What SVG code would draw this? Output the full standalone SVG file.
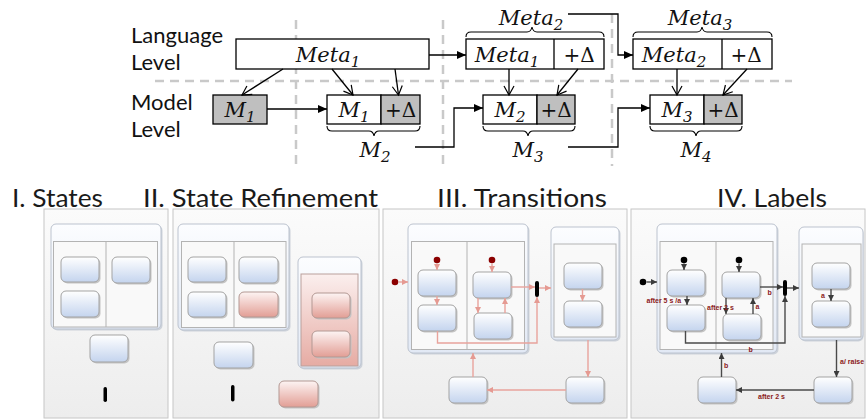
<svg xmlns="http://www.w3.org/2000/svg" width="866" height="419" viewBox="0 0 866 419">
<defs>
<linearGradient id="gBlue" x1="0" y1="0" x2="0" y2="1"><stop offset="0" stop-color="#ffffff"/><stop offset="1" stop-color="#c4d4ee"/></linearGradient>
<linearGradient id="gPink" x1="0" y1="0" x2="0" y2="1"><stop offset="0" stop-color="#fdf4f3"/><stop offset="1" stop-color="#e29e95"/></linearGradient>
<linearGradient id="gPinkReg" x1="0" y1="0" x2="0" y2="1"><stop offset="0" stop-color="#fbefee"/><stop offset="1" stop-color="#e6aba3"/></linearGradient>
<linearGradient id="gComp" x1="0" y1="0" x2="0" y2="1"><stop offset="0" stop-color="#fcfdff"/><stop offset="1" stop-color="#e2e9f5"/></linearGradient>
<linearGradient id="gPanel" x1="0" y1="0" x2="0" y2="1"><stop offset="0" stop-color="#fbfbfb"/><stop offset="1" stop-color="#ededed"/></linearGradient>
<marker id="aFill" markerUnits="userSpaceOnUse" markerWidth="9" markerHeight="8" refX="9" refY="4" orient="auto"><path d="M0,0 L9,4 L0,8 z" fill="#000"/></marker>
<marker id="aOpen" markerUnits="userSpaceOnUse" markerWidth="12" markerHeight="12" refX="10" refY="6" orient="auto"><path d="M1,1 L10,6 L1,11" fill="none" stroke="#000" stroke-width="1.2"/></marker>
<marker id="aPink" markerUnits="userSpaceOnUse" markerWidth="6" markerHeight="6" refX="6" refY="3" orient="auto"><path d="M0,0 L6,3 L0,6 z" fill="#e59a92"/></marker>
<marker id="aDark" markerUnits="userSpaceOnUse" markerWidth="6" markerHeight="6" refX="6" refY="3" orient="auto"><path d="M0,0 L6,3 L0,6 z" fill="#3c3c3c"/></marker>
</defs>
<style>
.lvl{font-family:Lato,"Liberation Sans",sans-serif;font-size:22px;fill:#111}
.math{font-family:"DejaVu Serif","Liberation Serif",serif;font-style:italic;font-size:21px;fill:#111}
.sub{font-size:15px}
.up{font-family:"DejaVu Serif","Liberation Serif",serif;font-size:20px;fill:#111}
.title{font-family:Lato,"Liberation Sans",sans-serif;font-weight:400;font-size:25px;fill:#1a1a1a}
.box{fill:#fff;stroke:#000;stroke-width:1.3}
.gray{fill:#bfbfbf;stroke:#000;stroke-width:1.3}
.dash{stroke:#c9c9c9;stroke-width:2.5;stroke-dasharray:9 6;fill:none}
.ln{stroke:#000;stroke-width:1.3;fill:none}
.brace{stroke:#000;stroke-width:1.1;fill:none}
.panel{fill:url(#gPanel);stroke:#c6c6c6;stroke-width:1}
.comp{fill:url(#gComp);stroke:#bcc3cf;stroke-width:1}
.csh{fill:#cdd2da}
.reg{fill:#f9f9f9;stroke:#b3b3b3;stroke-width:1}
.div{stroke:#b3b3b3;stroke-width:1}
.st{fill:url(#gBlue);stroke:#a3a3a3;stroke-width:1}
.pk{fill:url(#gPink);stroke:#b39893;stroke-width:1}
.sh{fill:#c4c4c4}
.preg{fill:url(#gPinkReg);stroke:#b9a09c;stroke-width:1}
.bar{fill:#000}
.tr{stroke:#e8a39c;stroke-width:1.4;fill:none;marker-end:url(#aPink)}
.tl{stroke:#4a4a4a;stroke-width:1.4;fill:none;marker-end:url(#aDark)}
.lbl{font-family:"Liberation Sans",Arial,sans-serif;font-weight:bold;font-size:7px;fill:#8b1a1a}
</style>

<!-- ===== Top: language/model evolution ===== -->
<g id="grid">
<path class="dash" d="M155,81 L792,81"/>
<path class="dash" d="M296,20 L296,166"/>
<path class="dash" d="M443,20 L443,166"/>
<path class="dash" d="M612,14 L612,166"/>
</g>
<g id="level-labels">
<text class="lvl" x="131" y="43">Language</text>
<text class="lvl" x="131" y="70">Level</text>
<text class="lvl" x="131" y="110">Model</text>
<text class="lvl" x="131" y="137">Level</text>
</g>

<g id="meta1">
<rect class="box" x="236" y="39" width="193" height="30"/>
<text class="math" x="328" y="62" text-anchor="middle">Meta<tspan class="sub" dy="5">1</tspan></text>
</g>
<g id="meta2">
<rect class="box" x="466" y="39" width="138" height="30"/>
<line class="ln" x1="554" y1="39" x2="554" y2="69"/>
<text class="math" x="507" y="62" text-anchor="middle">Meta<tspan class="sub" dy="5">1</tspan></text>
<text class="up" x="579" y="62" text-anchor="middle">+Δ</text>
<path class="brace" d="M466,37 Q466,32 471,32 L527,32 Q531,32 532,27 Q533,32 537,32 L599,32 Q604,32 604,37"/>
<text class="math" x="531" y="25" text-anchor="middle">Meta<tspan class="sub" dy="5">2</tspan></text>
</g>
<g id="meta3">
<rect class="box" x="633" y="39" width="139" height="30"/>
<line class="ln" x1="722" y1="39" x2="722" y2="69"/>
<text class="math" x="674" y="62" text-anchor="middle">Meta<tspan class="sub" dy="5">2</tspan></text>
<text class="up" x="746" y="62" text-anchor="middle">+Δ</text>
<path class="brace" d="M633,37 Q633,32 638,32 L697,32 Q701,32 702,27 Q703,32 707,32 L767,32 Q772,32 772,37"/>
<text class="math" x="700" y="25" text-anchor="middle">Meta<tspan class="sub" dy="5">3</tspan></text>
</g>
<g id="m1">
<rect class="gray" x="213" y="95" width="54" height="29"/>
<text class="math" x="240" y="117" text-anchor="middle">M<tspan class="sub" dy="5">1</tspan></text>
</g>
<g id="m2">
<rect class="box" x="327" y="95" width="54" height="29"/>
<rect class="gray" x="381" y="95" width="39" height="29"/>
<text class="math" x="354" y="117" text-anchor="middle">M<tspan class="sub" dy="5">1</tspan></text>
<text class="up" x="400.5" y="117" text-anchor="middle">+Δ</text>
<path class="brace" d="M327,126 Q327,131 332,131 L369,131 Q373,131 374,136 Q375,131 379,131 L415,131 Q420,131 420,126"/>
<text class="math" x="375" y="157" text-anchor="middle">M<tspan class="sub" dy="5">2</tspan></text>
</g>
<g id="m3">
<rect class="box" x="483" y="95" width="54" height="29"/>
<rect class="gray" x="537" y="95" width="38" height="29"/>
<text class="math" x="510" y="117" text-anchor="middle">M<tspan class="sub" dy="5">2</tspan></text>
<text class="up" x="556" y="117" text-anchor="middle">+Δ</text>
<path class="brace" d="M483,126 Q483,131 488,131 L523,131 Q527,131 528,136 Q529,131 533,131 L570,131 Q575,131 575,126"/>
<text class="math" x="528" y="157" text-anchor="middle">M<tspan class="sub" dy="5">3</tspan></text>
</g>
<g id="m4">
<rect class="box" x="650" y="95" width="54" height="29"/>
<rect class="gray" x="704" y="95" width="38" height="29"/>
<text class="math" x="677" y="117" text-anchor="middle">M<tspan class="sub" dy="5">3</tspan></text>
<text class="up" x="723" y="117" text-anchor="middle">+Δ</text>
<path class="brace" d="M650,126 Q650,131 655,131 L691,131 Q695,131 696,136 Q697,131 701,131 L737,131 Q742,131 742,126"/>
<text class="math" x="696" y="157" text-anchor="middle">M<tspan class="sub" dy="5">4</tspan></text>
</g>

<g id="top-connectors">
<path class="ln" d="M283,69 L242,95" marker-end="url(#aOpen)"/>
<path class="ln" d="M332,69 L353,95" marker-end="url(#aOpen)"/>
<path class="ln" d="M395,69 L398.5,95" marker-end="url(#aOpen)"/>
<path class="ln" d="M509,69 L509,95" marker-end="url(#aOpen)"/>
<path class="ln" d="M578,69 L557,95" marker-end="url(#aOpen)"/>
<path class="ln" d="M677,69 L677,95" marker-end="url(#aOpen)"/>
<path class="ln" d="M747,69 L723,95" marker-end="url(#aOpen)"/>
<path class="ln" d="M267,109 L327,109" marker-end="url(#aFill)"/>
<path class="ln" d="M429,55 L466,55" marker-end="url(#aFill)"/>
<path class="ln" d="M568,14 L618,14 L618,55 L633,55" marker-end="url(#aFill)"/>
<path class="ln" d="M415,147 L454,147 L454,108 L483,108" marker-end="url(#aFill)"/>
<path class="ln" d="M568,147 L618,147 L618,108 L650,108" marker-end="url(#aFill)"/>
</g>

<!-- ===== Titles ===== -->
<g id="titles">
<text class="title" x="12" y="207" textLength="91" lengthAdjust="spacingAndGlyphs">I. States</text>
<text class="title" x="143" y="207" textLength="235" lengthAdjust="spacingAndGlyphs">II. State Refinement</text>
<text class="title" x="437" y="207" textLength="170" lengthAdjust="spacingAndGlyphs">III. Transitions</text>
<text class="title" x="717" y="207" textLength="110" lengthAdjust="spacingAndGlyphs">IV. Labels</text>
</g>

<!-- ===== Panel I ===== -->
<g id="panel1">
<rect class="panel" x="44" y="209" width="124" height="209"/>
<rect class="csh" x="52.5" y="225.5" width="110" height="105" rx="5"/>
<rect class="comp" x="51" y="224" width="110" height="105" rx="5"/>
<rect class="reg" x="53.5" y="241.5" width="104" height="85.5"/>
<line class="div" x1="106" y1="241.5" x2="106" y2="327"/>
<g id="p1-s1"><rect class="sh" x="62.5" y="258.5" width="38" height="25" rx="5"/><rect class="st" x="61" y="257" width="38" height="25" rx="5"/></g>
<g id="p1-s2"><rect class="sh" x="62.5" y="292.5" width="38" height="26" rx="5"/><rect class="st" x="61" y="291" width="38" height="26" rx="5"/></g>
<g id="p1-s3"><rect class="sh" x="113.5" y="258.5" width="38" height="26" rx="5"/><rect class="st" x="112" y="257" width="38" height="26" rx="5"/></g>
<g id="p1-s4"><rect class="sh" x="91.5" y="336.5" width="38" height="27" rx="5"/><rect class="st" x="90" y="335" width="38" height="27" rx="5"/></g>
<rect class="bar" x="103.5" y="387" width="3.5" height="15" rx="1.7"/>
</g>

<!-- ===== Panel II ===== -->
<g id="panel2">
<rect class="panel" x="173" y="209" width="206" height="209"/>
<rect class="csh" x="179.5" y="225.5" width="111" height="106" rx="5"/>
<rect class="comp" x="178" y="224" width="111" height="106" rx="5"/>
<rect class="reg" x="181.5" y="241.5" width="104.5" height="86"/>
<line class="div" x1="234" y1="241.5" x2="234" y2="327.5"/>
<g id="p2-s1"><rect class="sh" x="189.5" y="258.5" width="38" height="25" rx="5"/><rect class="st" x="188" y="257" width="38" height="25" rx="5"/></g>
<g id="p2-s2"><rect class="sh" x="189.5" y="293.5" width="38" height="25" rx="5"/><rect class="st" x="188" y="292" width="38" height="25" rx="5"/></g>
<g id="p2-s3"><rect class="sh" x="240.5" y="258.5" width="39" height="26" rx="5"/><rect class="st" x="239" y="257" width="39" height="26" rx="5"/></g>
<g id="p2-s4"><rect class="sh" x="240.5" y="293.5" width="39" height="25" rx="5"/><rect class="pk" x="239" y="292" width="39" height="25" rx="5"/></g>
<rect class="csh" x="299.5" y="258.5" width="63" height="111" rx="5"/>
<rect class="comp" x="298" y="257" width="63" height="111" rx="5"/>
<rect class="preg" x="301" y="274" width="57" height="92"/>
<g id="p2-s5"><rect class="sh" x="313.5" y="294.5" width="38" height="25" rx="5"/><rect class="pk" x="312" y="293" width="38" height="25" rx="5"/></g>
<g id="p2-s6"><rect class="sh" x="313.5" y="332.5" width="38" height="26" rx="5"/><rect class="pk" x="312" y="331" width="38" height="26" rx="5"/></g>
<g id="p2-s7"><rect class="sh" x="215.5" y="343.5" width="39" height="26" rx="5"/><rect class="st" x="214" y="342" width="39" height="26" rx="5"/></g>
<rect class="bar" x="231" y="385" width="3.5" height="16.5" rx="1.7"/>
<g id="p2-s8"><rect class="sh" x="280.5" y="382.5" width="39" height="26" rx="5"/><rect class="pk" x="279" y="381" width="39" height="26" rx="5"/></g>
</g>

<!-- ===== Panel III ===== -->
<g id="panel3">
<rect class="panel" x="383" y="209" width="244" height="209"/>
<rect class="csh" x="409.5" y="225.5" width="120" height="129" rx="5"/>
<rect class="comp" x="408" y="224" width="120" height="129" rx="5"/>
<rect class="reg" x="411.5" y="241.5" width="113" height="108"/>
<line class="div" x1="467" y1="241.5" x2="467" y2="349.5"/>
<g id="p3-A"><rect class="sh" x="419.5" y="271.5" width="38" height="26" rx="5"/><rect class="st" x="418" y="270" width="38" height="26" rx="5"/></g>
<g id="p3-B"><rect class="sh" x="419.5" y="306.5" width="38" height="26" rx="5"/><rect class="st" x="418" y="305" width="38" height="26" rx="5"/></g>
<g id="p3-C"><rect class="sh" x="474.5" y="273.5" width="38" height="26" rx="5"/><rect class="st" x="473" y="272" width="38" height="26" rx="5"/></g>
<g id="p3-D"><rect class="sh" x="475.5" y="314.5" width="38" height="26" rx="5"/><rect class="st" x="474" y="313" width="38" height="26" rx="5"/></g>
<circle cx="437" cy="260" r="3.3" fill="#8b0000"/>
<circle cx="492" cy="260" r="3.3" fill="#8b0000"/>
<circle cx="395" cy="282" r="3.3" fill="#8b0000"/>
<rect class="bar" x="535" y="281" width="4" height="16" rx="2"/>
<rect class="csh" x="552.5" y="228.5" width="68" height="113" rx="5"/>
<rect class="comp" x="551" y="227" width="68" height="113" rx="5"/>
<rect class="reg" x="554" y="244" width="62" height="93"/>
<g id="p3-E"><rect class="sh" x="565.5" y="264.5" width="38" height="26" rx="5"/><rect class="st" x="564" y="263" width="38" height="26" rx="5"/></g>
<g id="p3-F"><rect class="sh" x="565.5" y="302.5" width="38" height="26" rx="5"/><rect class="st" x="564" y="301" width="38" height="26" rx="5"/></g>
<g id="p3-G"><rect class="sh" x="567.5" y="378.5" width="38" height="26" rx="5"/><rect class="st" x="566" y="377" width="38" height="26" rx="5"/></g>
<g id="p3-H"><rect class="sh" x="450.5" y="378.5" width="38" height="26" rx="5"/><rect class="st" x="449" y="377" width="38" height="26" rx="5"/></g>
</g>
<g id="p3-connectors">
<path class="tr" d="M437,263.5 L437,270"/>
<path class="tr" d="M492,263.5 L492,272"/>
<path class="tr" d="M398.5,282 L408,282"/>
<path class="tr" d="M437,296 L437,305"/>
<path class="tr" d="M478,298 L478,313"/>
<path class="tr" d="M505,313 L505,298"/>
<path class="tr" d="M511,287 L535,287"/>
<path class="tr" d="M437.5,331 L437.5,343 L537,343 L537,297"/>
<path class="tr" d="M539,288 L551,288"/>
<path class="tr" d="M582.5,289 L582.5,301"/>
<path class="tr" d="M588,340 L588,377"/>
<path class="tr" d="M566,390 L487,390"/>
<path class="tr" d="M473,377 L473,353"/>
</g>

<!-- ===== Panel IV ===== -->
<g id="panel4">
<rect class="panel" x="631" y="209" width="234" height="209"/>
<rect class="csh" x="658.5" y="225.5" width="120" height="129" rx="5"/>
<rect class="comp" x="657" y="224" width="120" height="129" rx="5"/>
<rect class="reg" x="660" y="241.5" width="113" height="108"/>
<line class="div" x1="716" y1="241.5" x2="716" y2="349.5"/>
<g id="p4-A"><rect class="sh" x="668.5" y="271.5" width="38" height="26" rx="5"/><rect class="st" x="667" y="270" width="38" height="26" rx="5"/></g>
<g id="p4-B"><rect class="sh" x="668.5" y="306.5" width="38" height="26" rx="5"/><rect class="st" x="667" y="305" width="38" height="26" rx="5"/></g>
<g id="p4-C"><rect class="sh" x="723.5" y="273.5" width="38" height="26" rx="5"/><rect class="st" x="722" y="272" width="38" height="26" rx="5"/></g>
<g id="p4-D"><rect class="sh" x="724.5" y="315.5" width="38" height="26" rx="5"/><rect class="st" x="723" y="314" width="38" height="26" rx="5"/></g>
<circle cx="684" cy="260" r="3.3" fill="#000"/>
<circle cx="739" cy="260" r="3.3" fill="#000"/>
<circle cx="643" cy="282" r="3.3" fill="#000"/>
<rect class="bar" x="783" y="280" width="4" height="16" rx="2"/>
<rect class="csh" x="800.5" y="228.5" width="63" height="113" rx="5"/>
<rect class="comp" x="799" y="227" width="64" height="113" rx="5"/>
<rect class="reg" x="802" y="244" width="59" height="93"/>
<g id="p4-E"><rect class="sh" x="813.5" y="264.5" width="38" height="26" rx="5"/><rect class="st" x="812" y="263" width="38" height="26" rx="5"/></g>
<g id="p4-F"><rect class="sh" x="813.5" y="302.5" width="38" height="26" rx="5"/><rect class="st" x="812" y="301" width="38" height="26" rx="5"/></g>
<g id="p4-G"><rect class="sh" x="815.5" y="378.5" width="38" height="26" rx="5"/><rect class="st" x="814" y="377" width="38" height="26" rx="5"/></g>
<g id="p4-H"><rect class="sh" x="699.5" y="378.5" width="38" height="26" rx="5"/><rect class="st" x="698" y="377" width="38" height="26" rx="5"/></g>
</g>
<g id="p4-connectors">
<path class="tl" d="M684,263.5 L684,270"/>
<path class="tl" d="M739,263.5 L739,272"/>
<path class="tl" d="M646.5,282 L657,282"/>
<path class="tl" d="M687,296 L687,305"/>
<path class="tl" d="M726,298 L726,314"/>
<path class="tl" d="M753,314 L753,298"/>
<path class="tl" d="M760,287 L783,287"/>
<path class="tl" d="M685.5,331 L685.5,343 L785,343 L785,296"/>
<path class="tl" d="M787,288 L799,288"/>
<path class="tl" d="M831,289 L831,301"/>
<path class="tl" d="M836.5,340 L836.5,377"/>
<path class="tl" d="M814,390 L736,390"/>
<path class="tl" d="M721.5,377 L721.5,353"/>
</g>
<g id="p4-labels">
<text class="lbl" x="646.5" y="303">after 5 s /a</text>
<text class="lbl" x="707" y="310">after 2 s</text>
<text class="lbl" x="755.5" y="309">a</text>
<text class="lbl" x="767.5" y="295">b</text>
<text class="lbl" x="748.5" y="352">b</text>
<text class="lbl" x="724" y="367.5">b</text>
<text class="lbl" x="821" y="297.5">a</text>
<text class="lbl" x="840" y="364">a/ raise</text>
<text class="lbl" x="771.5" y="399" text-anchor="middle">after 2 s</text>
</g>
</svg>
